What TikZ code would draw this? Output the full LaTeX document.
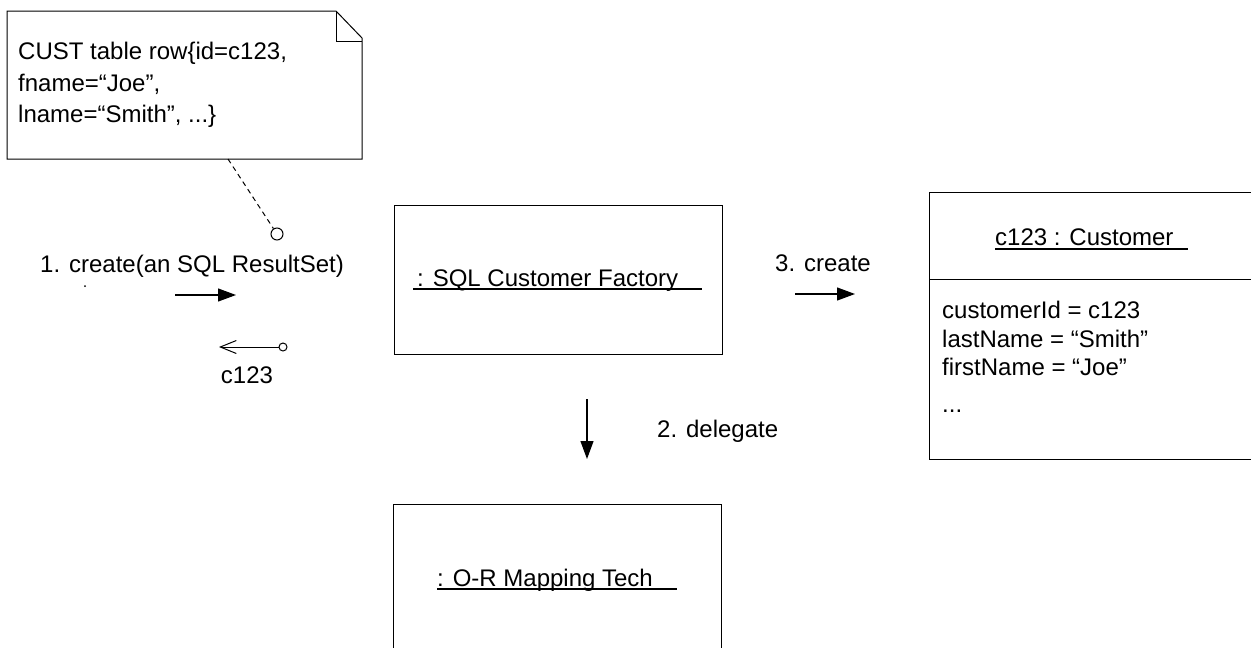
\documentclass[tikz,border=0pt]{standalone}
\usepackage{fontspec}
\setmainfont{Liberation Sans}
\usetikzlibrary{arrows.meta}
\tikzset{
  line/.style={draw=black, line width=1pt},
  txt/.style={inner sep=0pt, anchor=base west, font=\fontsize{24}{29}\selectfont},
  msgarrow/.style={line width=1.2pt, -{Triangle[length=18pt,width=13pt]}},
  retarrow/.style={line width=1pt, -{Straight Barb[length=16pt,width=13pt,line width=1pt]}},
  knob/.style={circle, draw, line width=1pt, fill=white, inner sep=0pt},
  ulinestyle/.style={line width=1.2pt},
}
\begin{document}
\begin{tikzpicture}[x=1pt,y=-1pt]
\useasboundingbox (0,0) rectangle (1251,648);
\begin{scope}
\clip (0,0) rectangle (1251,648);
% note
\draw[line] (7,11) -- (336,11) -- (362,38) -- (362,159) -- (7,159) -- cycle;
\draw[line] (336,11) -- (336,41) -- (362,41);
\node[txt] (nt1) at (18,59) {CUST table row\{id=c123,};
\node[txt] (nt2) at (18,91) {fname=“Joe”,};
\node[txt] (nt3) at (18,122) {lname=“Smith”, ...\}};
\coordinate (nattach) at (228,159);
\node[knob, minimum size=12pt] (k1) at (277,234) {};
\draw[line, dashed, dash pattern=on 5pt off 4pt] (nattach) -- (k1);

% message 1
\node[txt] (m1) at (40,272) {1. create(an SQL ResultSet)};
\fill (85,286) circle (1pt);
\coordinate (a1s) at (175,295);
\coordinate (a1e) at (236,295);
\draw[msgarrow] (a1s) -- (a1e);
\node[knob, minimum size=8pt] (k2) at (283,347) {};
\coordinate (r1e) at (219,347);
\draw[retarrow] (k2) -- (r1e);
\node[txt, anchor=base] (ret) at (247,383) {c123};

% factory
\node[line, draw, minimum width=328pt, minimum height=149pt, inner sep=0pt] (fac) at (558,279.5) {};
\node[txt] (factxt) at (417,286) {: SQL Customer Factory};
\draw[ulinestyle] (413,289) -- (702,289);

% message 3
\node[txt] (m3) at (775,271) {3. create};
\coordinate (a3s) at (795,294);
\coordinate (a3e) at (855,294);
\draw[msgarrow] (a3s) -- (a3e);

% customer
\draw[line] (1260,192) -- (929,192) -- (929,459) -- (1260,459);
\draw[line] (929,279) -- (1260,279);
\node[txt] (custtitle) at (995,245) {c123 : Customer};
\draw[ulinestyle] (995,249) -- (1188,249);
\node[txt] (at1) at (942,318) {customerId = c123};
\node[txt] (at2) at (942,347) {lastName = “Smith”};
\node[txt] (at3) at (942,375) {firstName = “Joe”};
\node[txt] (at4) at (942,412) {...};

% delegate
\coordinate (a2s) at (587,399);
\coordinate (a2e) at (587,459);
\draw[msgarrow] (a2s) -- (a2e);
\node[txt] (m2) at (657,437) {2. delegate};

% mapping
\draw[line] (393,660) -- (393,504) -- (721,504) -- (721,660);
\node[txt] (maptxt) at (437,586) {: O-R Mapping Tech};
\draw[ulinestyle] (437,589) -- (677,589);
\end{scope}
\end{tikzpicture}
\end{document}
